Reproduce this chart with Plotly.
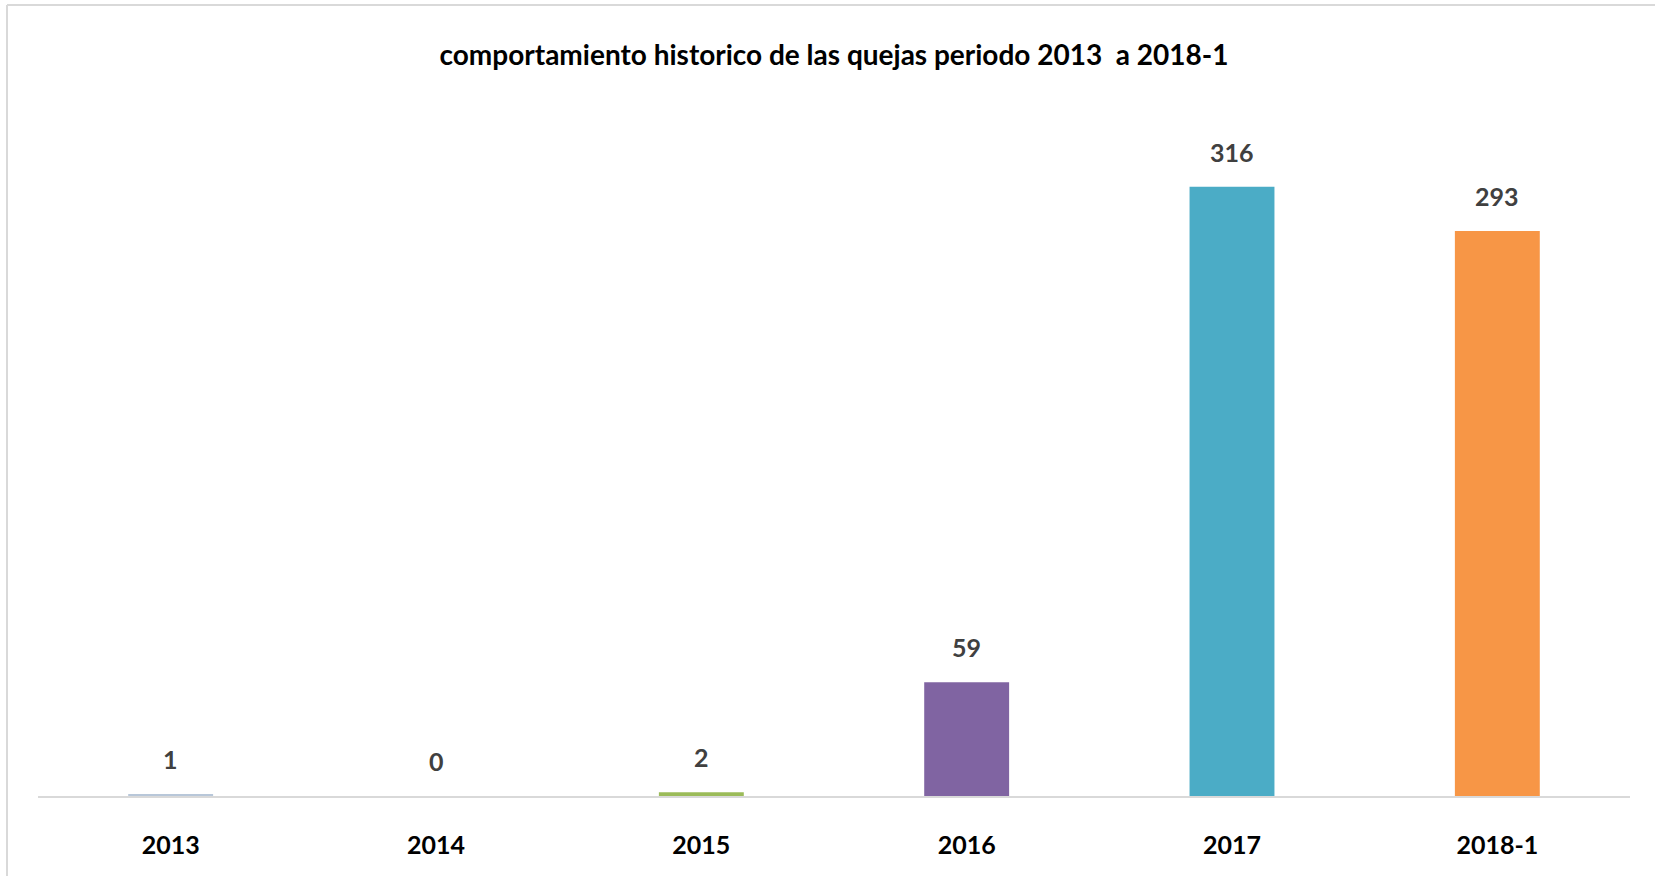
import plotly.graph_objects as go

categories = ["2013", "2014", "2015", "2016", "2017", "2018-1"]
values = [1, 0, 2, 59, 316, 293]
colors = ["#b8c7d9", "#c0504d", "#9bbb59", "#8064a2", "#4bacc6", "#f79646"]
title_text = "comportamiento historico de las quejas periodo 2013  a 2018-1"

W, H = 1659, 876
ml, mr, mt, mb = 38, 29, 100, 80
FONT = "Lato, sans-serif"

fig = go.Figure()
fig.add_trace(go.Bar(
    x=categories, y=values, marker=dict(color=colors, line=dict(width=0)),
    hoverinfo="x+y",
))

for i, v in enumerate(values):
    fig.add_annotation(x=i, y=v, xref="x", yref="y", text=str(v), showarrow=False,
                       yanchor="middle", yshift=35,
                       font=dict(family=FONT, size=25, color="#404040", weight="bold"))

pw = W - ml - mr
ph = H - mt - mb
def px_to_paper_x(px):
    return (px - ml) / pw
def px_to_paper_y(py):
    return (H - mb - py) / ph

border = dict(color="#d9d9d9", width=2)
fig.add_shape(type="line", xref="paper", yref="paper",
              x0=px_to_paper_x(7), x1=px_to_paper_x(7),
              y0=px_to_paper_y(5), y1=px_to_paper_y(H), line=border)
fig.add_shape(type="line", xref="paper", yref="paper",
              x0=px_to_paper_x(7), x1=px_to_paper_x(W - 4),
              y0=px_to_paper_y(5), y1=px_to_paper_y(5), line=border)

fig.update_layout(
    width=W, height=H,
    margin=dict(l=ml, r=mr, t=mt, b=mb),
    paper_bgcolor="white", plot_bgcolor="white",
    bargap=0.68,
    showlegend=False,
    title=dict(text=title_text, x=0.5, xref="paper", xanchor="center",
               y=1 - 55 / H, yanchor="middle", yref="container",
               font=dict(family=FONT, size=28, color="black", weight="bold")),
    xaxis=dict(type="category", range=[-0.5, len(categories) - 0.5],
               showline=True, linecolor="#d9d9d9", linewidth=2,
               showgrid=False, ticks="", ticklabelstandoff=26,
               tickfont=dict(family=FONT, size=25, color="black", weight="bold"),
               zeroline=False),
    yaxis=dict(range=[0, 361], visible=False, showgrid=False, zeroline=False),
)

fig.write_html("out.html", config={"displayModeBar": False},
               post_script="document.body.style.margin='0';")
